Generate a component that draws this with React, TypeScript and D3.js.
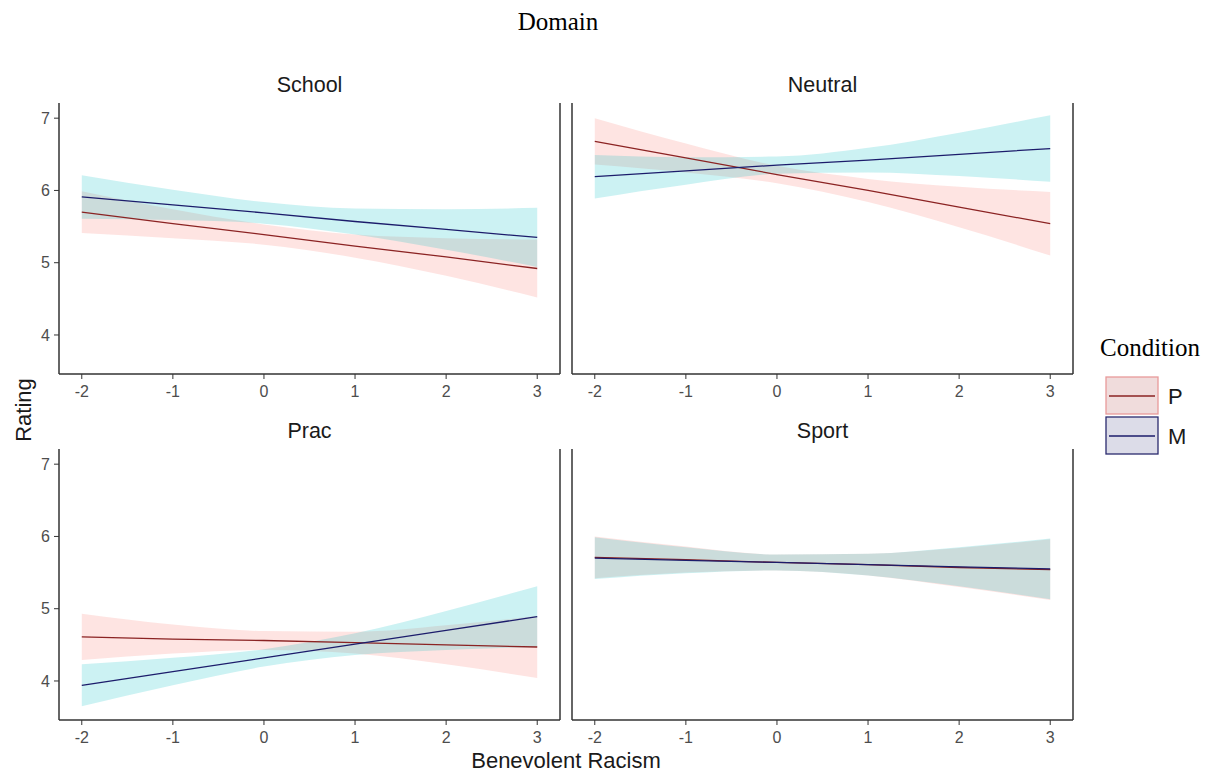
import React from 'react';
import * as d3 from 'd3';

// data
const xs = [-2, -1, 0, 1, 2, 3];
const panels = ['School', 'Neutral', 'Prac', 'Sport'];
const conditions = ['P', 'M'];

const schoolP = [5.70, 5.54, 5.39, 5.23, 5.08, 4.92];
const schoolPHalf = [0.29, 0.20, 0.14, 0.16, 0.26, 0.40];
const schoolM = [5.91, 5.80, 5.69, 5.57, 5.46, 5.35];
const schoolMHalf = [0.30, 0.21, 0.15, 0.18, 0.28, 0.41];

const neutralP = [6.68, 6.45, 6.22, 6.00, 5.77, 5.54];
const neutralPHalf = [0.32, 0.20, 0.12, 0.16, 0.28, 0.44];
const neutralM = [6.19, 6.27, 6.35, 6.42, 6.50, 6.58];
const neutralMHalf = [0.30, 0.19, 0.12, 0.17, 0.30, 0.46];

const pracP = [4.61, 4.58, 4.56, 4.53, 4.50, 4.47];
const pracPHalf = [0.32, 0.20, 0.13, 0.15, 0.27, 0.43];
const pracM = [3.94, 4.13, 4.32, 4.51, 4.70, 4.89];
const pracMHalf = [0.29, 0.19, 0.12, 0.15, 0.27, 0.42];

const sportP = [5.71, 5.68, 5.64, 5.61, 5.57, 5.54];
const sportPHalf = [0.29, 0.18, 0.11, 0.15, 0.27, 0.42];
const sportM = [5.70, 5.67, 5.64, 5.61, 5.58, 5.55];
const sportMHalf = [0.29, 0.18, 0.11, 0.15, 0.27, 0.42];

const xTicks = [-2, -1, 0, 1, 2, 3];
const yTicks = [4, 5, 6, 7];

const fits: Record<string, number[][]> = {
  School: [schoolP, schoolM],
  Neutral: [neutralP, neutralM],
  Prac: [pracP, pracM],
  Sport: [sportP, sportM],
};
const halves: Record<string, number[][]> = {
  School: [schoolPHalf, schoolMHalf],
  Neutral: [neutralPHalf, neutralMHalf],
  Prac: [pracPHalf, pracMHalf],
  Sport: [sportPHalf, sportMHalf],
};

const lineColors = ['#8b2323', '#1c1c6b'];
const fillColors = ['#f8766d', '#00bfc4'];

const sans = 'Liberation Sans, Arial, sans-serif';
const serif = 'Liberation Serif, Times New Roman, serif';

// layout
const cols = [59, 572];
const rows = [103, 449];
const pw = 501;
const ph = 271;

const xScale = d3.scaleLinear().domain([-2.25, 3.25]).range([0, pw]);
const yScale = d3.scaleLinear().domain([3.46, 7.21]).range([ph, 0]);

function Panel({ name, idx }: { name: string; idx: number }) {
  const c = idx % 2;
  const r = Math.floor(idx / 2);
  const ox = cols[c];
  const oy = rows[r];

  const line = d3.line<number>()
    .x((_, i) => xScale(xs[i]))
    .y(d => yScale(d));

  const area = (fit: number[], half: number[]) => d3.area<number>()
    .x((_, i) => xScale(xs[i]))
    .y0((d, i) => yScale(d - half[i]))
    .y1((d, i) => yScale(d + half[i]))
    .curve(d3.curveMonotoneX)(fit) || '';

  return (
    <g transform={`translate(${ox},${oy})`}>
      <text x={pw / 2} y={-11} textAnchor="middle" fontFamily={sans} fontSize={21.5} fill="#1a1a1a">{name}</text>
      {fits[name].map((f, i) => (
        <path key={'a' + i} d={area(f, halves[name][i])} fill={fillColors[i]} fillOpacity={0.2} />
      ))}
      {fits[name].map((f, i) => (
        <path key={'l' + i} d={line(f) || ''} fill="none" stroke={lineColors[i]} strokeWidth={1.3} />
      ))}
      {/* axes */}
      <line x1={0} x2={0} y1={0} y2={ph} stroke="#333" strokeWidth={1.5} />
      <line x1={pw} x2={pw} y1={0} y2={ph} stroke="#333" strokeWidth={1.5} />
      <line x1={0} x2={pw} y1={ph} y2={ph} stroke="#333" strokeWidth={1.5} />
      {xTicks.map(t => (
        <g key={t} transform={`translate(${xScale(t)},${ph})`}>
          <line y1={0} y2={5} stroke="#333" />
          <text y={23} textAnchor="middle" fontFamily={sans} fontSize={16} fill="#4d4d4d">{t}</text>
        </g>
      ))}
      {c === 0 && yTicks.map(t => (
        <g key={t} transform={`translate(0,${yScale(t)})`}>
          <line x1={-5} x2={0} stroke="#333" />
          <text x={-9} dy="0.36em" textAnchor="end" fontFamily={sans} fontSize={16} fill="#4d4d4d">{t}</text>
        </g>
      ))}
    </g>
  );
}

export default function App() {
  return (
    <svg width={1212} height={776} style={{ position: 'absolute', left: 0, top: 0, background: '#fff' }}>
      <rect width={1212} height={776} fill="#fff" />
      <text x={558} y={30} textAnchor="middle" fontFamily={serif} fontSize={25} fill="#000">Domain</text>
      {panels.map((p, i) => <Panel key={p} name={p} idx={i} />)}
      <text transform="translate(31,410) rotate(-90)" textAnchor="middle" fontFamily={sans} fontSize={22} fill="#1a1a1a">Rating</text>
      <text x={566} y={768} textAnchor="middle" fontFamily={sans} fontSize={22} fill="#1a1a1a">Benevolent Racism</text>
      {/* legend */}
      <text x={1100} y={356} fontFamily={serif} fontSize={25} fill="#000">Condition</text>
      {conditions.map((cnd, i) => (
        <g key={cnd} transform={`translate(1106,${377 + i * 40})`}>
          <rect width={52} height={37} fill={i === 0 ? '#f0dcdc' : '#dcdce8'} stroke={i === 0 ? '#e89a9a' : '#2a2a6e'} strokeWidth={1.3} />
          <line x1={3} x2={49} y1={19} y2={19} stroke={lineColors[i]} strokeWidth={1.3} />
          <text x={62} y={19} dy="0.36em" fontFamily={sans} fontSize={22} fill="#1a1a1a">{cnd}</text>
        </g>
      ))}
    </svg>
  );
}
